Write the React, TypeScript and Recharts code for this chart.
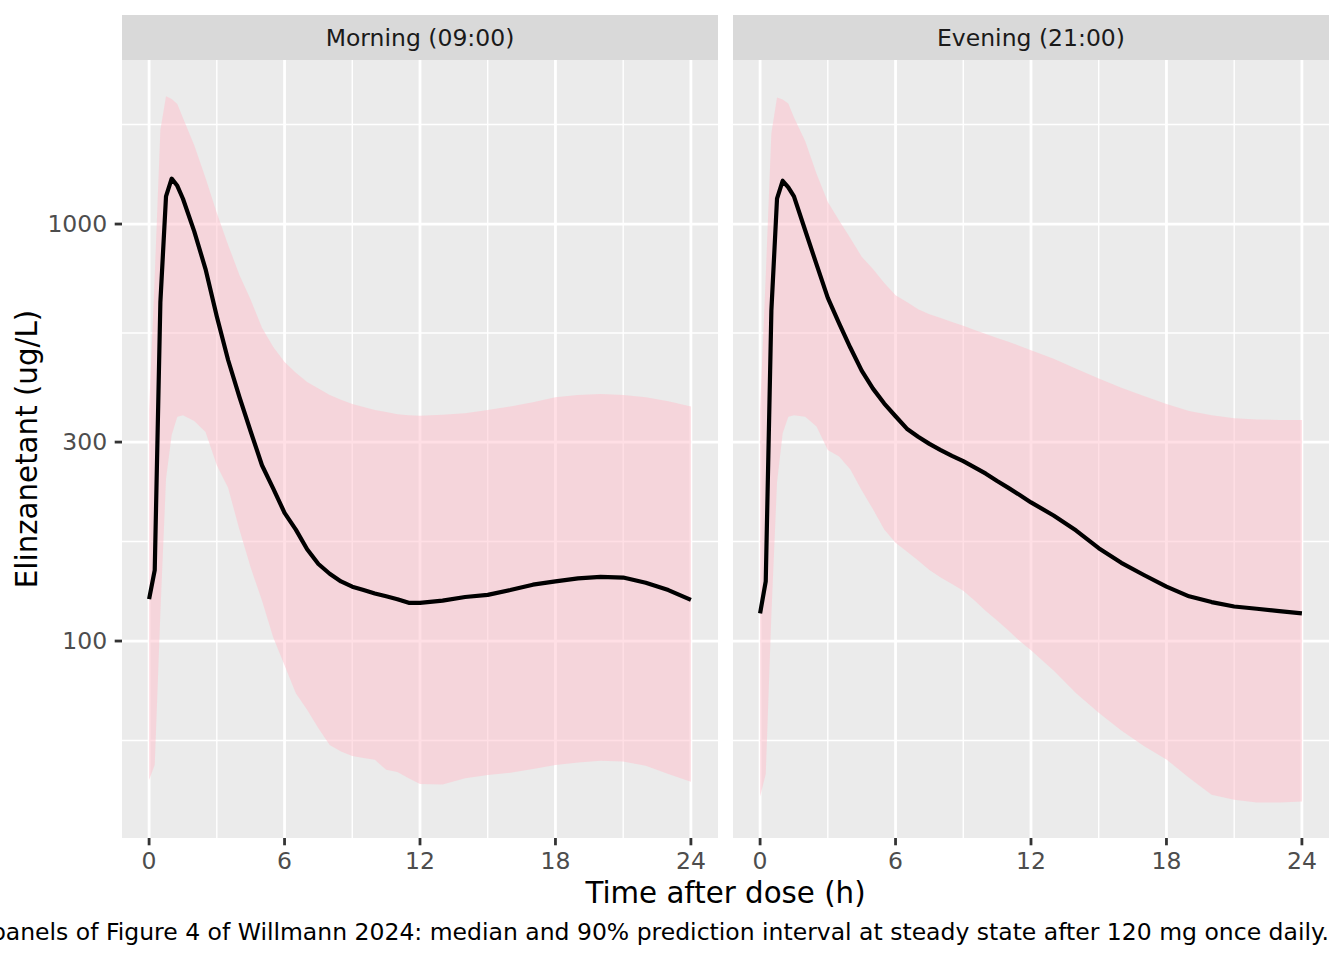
import { ComposedChart, Area, Line, XAxis, YAxis, CartesianGrid } from "recharts";

// hours after dose
const times = [
  0, 0.25, 0.5, 0.75, 1, 1.25, 1.5, 2, 2.5, 3, 3.5, 4, 4.5, 5, 5.5, 6, 6.5, 7, 7.5, 8,
  8.5, 9, 9.5, 10, 10.5, 11, 11.5, 12, 13, 14, 15, 16, 17, 18, 19, 20, 21, 22, 23, 24,
];

// Morning (09:00) dose, ug/L
const morningMedian = [
  126, 148, 650, 1165, 1285, 1235, 1150, 960, 780, 600, 472, 385, 318, 264, 232, 203, 185, 166, 153, 145,
  139, 135, 132.5, 130, 128, 126, 123.5, 123.5, 125, 127.5, 129, 132.5, 136.5, 139, 141.3, 142.5, 142, 138, 132.5, 125.5,
];
const morningLow = [
  46.4, 50.5, 117, 245, 312, 345, 348, 337, 317, 264, 233, 185, 150, 125, 102, 87.5, 75, 68.4, 61.8, 56.3,
  54.3, 53, 52.4, 51.9, 49.1, 48.5, 46.9, 45.4, 45.3, 46.9, 47.7, 48.3, 49.3, 50.4, 51.1, 51.6, 51.4, 50.2, 48, 46,
];
const morningHigh = [
  358, 750, 1680, 2026, 1995, 1940, 1795, 1546, 1289, 1063, 891, 755, 658, 564, 507, 467, 440, 418, 403, 389,
  379, 370, 364, 358, 354, 350, 348, 347, 349, 352, 358, 365, 374, 384, 389, 391, 389, 384, 376, 365,
];

// Evening (21:00) dose, ug/L
const eveningMedian = [
  116.5, 139, 620, 1150, 1270, 1225, 1165, 965, 800, 665, 578, 505, 445, 403, 371, 346, 323, 309, 297, 287,
  278, 270, 261, 252, 242, 233, 224, 215, 200, 184, 167, 154, 144, 135, 128, 124, 121, 119.5, 118, 116.5,
];
const eveningLow = [
  42.4, 48, 116, 240, 315, 345, 348, 345, 327, 287, 277, 258, 230, 207, 185, 172, 164, 156, 148, 142,
  137, 132, 125, 118, 112, 106, 100, 95, 85, 75, 67.3, 61, 56, 52, 47, 42.8, 41.6, 41, 41, 41.2,
];
const eveningHigh = [
  358, 750, 1650, 2010, 1990, 1945, 1800, 1580, 1320, 1130, 1020, 925, 835, 780, 722, 675, 650, 625, 608, 595,
  582, 570, 557, 545, 533, 522, 510, 498, 475, 450, 426, 405, 387, 370, 356, 348, 342, 340, 339, 339,
];

const xTicks = [0, 6, 12, 18, 24];
const xMinor = [3, 9, 15, 21];
const yTicks = [100, 300, 1000];
const yMinor = [57.74, 173.2, 547.7, 1732];

const FONT = "DejaVu Sans";

function buildData(median: number[], low: number[], high: number[]) {
  return times.map((t, i) => ({ t, median: median[i], band: [low[i], high[i]] }));
}

function Panel({ data, width, showY }: { data: any[]; width: number; showY: boolean }) {
  return (
    <ComposedChart width={width} height={880} data={data} margin={{ top: 60, right: 0, bottom: 0, left: 0 }}>
      <CartesianGrid stroke="#FFFFFF" strokeWidth={1.4} fill="#EBEBEB" fillOpacity={1}
        horizontalValues={yMinor} verticalValues={xMinor} />
      <CartesianGrid stroke="#FFFFFF" strokeWidth={2.8}
        horizontalValues={yTicks} verticalValues={xTicks} />
      <XAxis dataKey="t" type="number" domain={[-1.2, 25.2]} ticks={xTicks} allowDataOverflow
        height={42} axisLine={false} tickSize={7.3} tickMargin={7}
        tickLine={{ stroke: "#333333", strokeWidth: 2.8 }}
        tick={{ fill: "#4D4D4D", fontSize: 23.5, fontFamily: FONT }} />
      <YAxis scale="log" type="number" domain={[33.7, 2474]} ticks={yTicks} allowDataOverflow
        hide={!showY} width={122} axisLine={false} tickSize={7.3} tickMargin={7.5}
        tickLine={{ stroke: "#333333", strokeWidth: 2.8 }}
        tick={{ fill: "#4D4D4D", fontSize: 23.5, fontFamily: FONT }} />
      <Area dataKey="band" type="linear" stroke="none" fill="#FFC0CB" fillOpacity={0.5}
        isAnimationActive={false} />
      <Line dataKey="median" type="linear" stroke="#000000" strokeWidth={4.2} dot={false}
        strokeLinejoin="round" isAnimationActive={false} />
    </ComposedChart>
  );
}

export default function App() {
  const morning = buildData(morningMedian, morningLow, morningHigh);
  const evening = buildData(eveningMedian, eveningLow, eveningHigh);

  return (
    <div style={{ position: "absolute", left: 0, top: 0, width: 1344, height: 960, background: "#fff", overflow: "hidden" }}>
      <svg width={1344} height={960} style={{ position: "absolute", left: 0, top: 0 }} fontFamily={FONT}>
        <rect x={122} y={15} width={596} height={45} fill="#D9D9D9" />
        <rect x={733} y={15} width={596} height={45} fill="#D9D9D9" />
        <text x={420} y={46} textAnchor="middle" fontSize={23.5} fill="#1A1A1A">Morning (09:00)</text>
        <text x={1031} y={46} textAnchor="middle" fontSize={23.5} fill="#1A1A1A">Evening (21:00)</text>
        <text transform="translate(37,449) rotate(-90)" textAnchor="middle" fontSize={29.3} fill="#000">
          Elinzanetant (ug/L)
        </text>
        <text x={725.5} y={902.5} textAnchor="middle" fontSize={29.3} fill="#000">Time after dose (h)</text>
        <text x={1329} y={940} textAnchor="end" fontSize={23.5} fill="#000">
          panels of Figure 4 of Willmann 2024: median and 90% prediction interval at steady state after 120 mg once daily.
        </text>
      </svg>
      <div style={{ position: "absolute", left: 0, top: 0 }}>
        <Panel data={morning} width={718} showY={true} />
      </div>
      <div style={{ position: "absolute", left: 733, top: 0 }}>
        <Panel data={evening} width={596} showY={false} />
      </div>
    </div>
  );
}
